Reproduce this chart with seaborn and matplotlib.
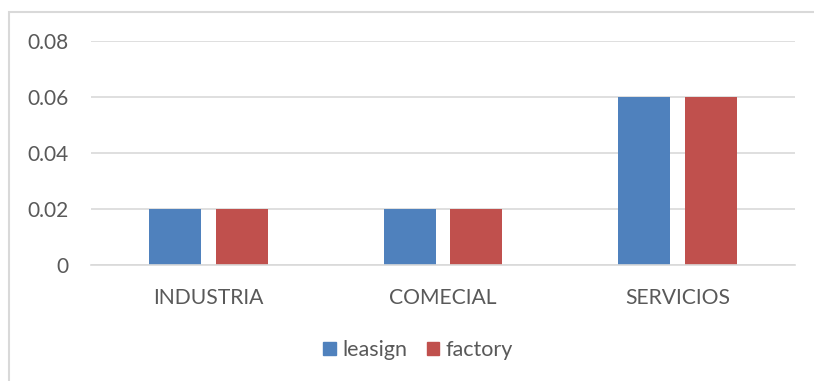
import matplotlib
matplotlib.use("Agg")
import matplotlib.pyplot as plt
import matplotlib.patches as mpatches
import seaborn as sns
import pandas as pd

categories = ["INDUSTRIA", "COMECIAL", "SERVICIOS"]
leasign = [0.02, 0.02, 0.06]
factory = [0.02, 0.02, 0.06]
series_names = ["leasign", "factory"]
yticks = [0, 0.02, 0.04, 0.06, 0.08]
ytick_labels = ["0", "0.02", "0.04", "0.06", "0.08"]

df = pd.DataFrame({
    "cat": categories * 2,
    "val": leasign + factory,
    "series": [series_names[0]] * 3 + [series_names[1]] * 3,
})

sns.set_theme(style="white")
plt.rcParams["font.family"] = ["Lato", "DejaVu Sans"]

text_color = "#595959"
grid_color = "#D9D9D9"

fig = plt.figure(figsize=(8.14, 3.81), dpi=100)
ax = fig.add_axes([91 / 814, 1 - 265 / 381, (795 - 91) / 814, (265 - 41) / 381])

sns.barplot(data=df, x="cat", y="val", hue="series",
            palette=["#4F81BD", "#C0504D"], width=0.568, gap=0.218,
            ax=ax, legend=False, saturation=1, linewidth=0)

ax.set_ylim(0, 0.08)
ax.set_xlim(-0.5, 2.5)
ax.set_yticks(yticks)
ax.set_yticklabels(ytick_labels)
ax.yaxis.grid(True, color=grid_color, linewidth=1.2)
ax.set_axisbelow(True)
for s in ["top", "right", "left"]:
    ax.spines[s].set_visible(False)
ax.spines["bottom"].set_color(grid_color)
ax.spines["bottom"].set_linewidth(1.2)
ax.set_xlabel("")
ax.set_ylabel("")
ax.tick_params(axis="y", length=0, pad=16, labelsize=15, labelcolor=text_color)
ax.tick_params(axis="x", length=0, pad=16.5, labelsize=15.2, labelcolor=text_color)

handles = [mpatches.Patch(color=c, label=n) for c, n in zip(["#4F81BD", "#C0504D"], series_names)]
fig.legend(handles=handles, loc="center", bbox_to_anchor=(418 / 814, 1 - 350 / 381),
           ncol=2, frameon=False, fontsize=15.5, handlelength=0.6, handleheight=0.6,
           handletextpad=0.3, columnspacing=0.9, labelcolor=text_color)

border = mpatches.Rectangle((9 / 814, -0.1), 1.2, (381 - 12) / 381 + 0.1,
                            transform=fig.transFigure, fill=False,
                            edgecolor=grid_color, linewidth=1.5, clip_on=False)
fig.patches.append(border)

fig.savefig("out.png", dpi=100, facecolor="white")
